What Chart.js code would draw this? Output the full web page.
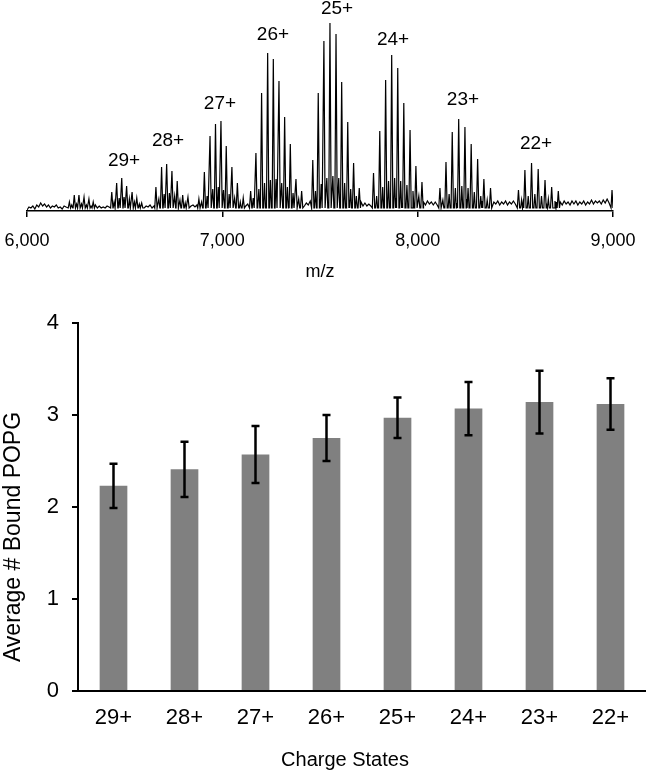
<!DOCTYPE html>
<html>
<head>
<meta charset="utf-8">
<title>Charge states and bound POPG</title>
<script src="https://cdn.jsdelivr.net/npm/chart.js@4.4.1/dist/chart.umd.min.js"></script>
<style>
  body { margin: 0; background: #fff; }
  #wrap { position: relative; width: 646px; height: 773px; }
  #spectrum { position: absolute; left: 0; top: 0; }
  #bars { position: absolute; left: 0; top: 290px; }
</style>
</head>
<body>
<div id="wrap">
  <canvas id="spectrum" width="646" height="290"></canvas>
  <canvas id="bars" width="646" height="483"></canvas>
</div>
<script>
// ========== DATA ==========
const chargeStates = ['29+', '28+', '27+', '26+', '25+', '24+', '23+', '22+'];

// where each charge label sits on the spectrum (m/z, intensity)
const labelMz  = [6497, 6722, 6988, 7259, 7587, 7874, 8232, 8606];
const labelInt = [50, 70, 107, 176, 202, 171, 111, 67];

// main lipid-adduct peaks, one line per charge state (30+ first, unlabelled)
const peakMz = [
  6217, 6242, 6266, 6292, 6317, 6339,
  6434, 6459, 6485, 6510, 6538, 6562, 6587,
  6660, 6689, 6715, 6742, 6769, 6797, 6824,
  6880, 6908, 6937, 6965, 6993, 7020, 7049, 7077, 7107,
  7145, 7172, 7201, 7232, 7261, 7290, 7319, 7348, 7377, 7406,
  7463, 7491, 7520, 7551, 7582, 7611, 7642, 7672, 7701,
  7774, 7806, 7836, 7867, 7898, 7929, 7961, 7991, 8022,
  8114, 8145, 8177, 8210, 8242, 8274, 8307, 8339, 8373,
  8516, 8549, 8583, 8617, 8652, 8686, 8720
];
const peakInt = [
  9, 16, 16, 14, 12, 9,
  19, 28, 33, 25, 19, 13, 8,
  24, 44, 47, 40, 30, 16, 14,
  12, 39, 75, 87, 90, 65, 44, 28, 13,
  20, 58, 118, 158, 152, 130, 94, 67, 32, 20,
  51, 118, 170, 188, 177, 129, 89, 48, 23,
  38, 80, 131, 156, 143, 108, 81, 45, 29,
  23, 49, 79, 92, 84, 67, 52, 32, 23,
  21, 41, 48, 42, 31, 24, 20
];

// smaller peaks sitting between the main ones
const minorMz = [
  6229, 6254, 6279, 6304, 6328,
  6446, 6472, 6497, 6524, 6550, 6575,
  6675, 6702, 6729, 6756, 6783, 6810,
  6894, 6922, 6951, 6979, 7006, 7035, 7063, 7092,
  7158, 7187, 7216, 7246, 7275, 7304, 7333, 7362, 7391,
  7477, 7506, 7535, 7566, 7596, 7626, 7657, 7686,
  7790, 7821, 7851, 7882, 7913, 7945, 7976, 8006,
  8129, 8161, 8193, 8226, 8258, 8290, 8323, 8356,
  8532, 8566, 8600, 8634, 8669, 8703,
  8995
];
const minorInt = [
  6, 7, 7, 6, 5,
  9, 13, 14, 12, 9, 7,
  12, 17, 18, 15, 11, 8,
  9, 15, 22, 24, 21, 17, 13, 9,
  13, 22, 28, 31, 32, 28, 24, 18, 12,
  20, 27, 33, 35, 33, 28, 22, 15,
  15, 24, 30, 33, 30, 26, 20, 15,
  11, 17, 23, 25, 23, 19, 15, 11,
  11, 15, 17, 15, 12, 10,
  21
];

// baseline noise, one reading every 10 m/z from 6,000 to 9,000 (a row = 100 m/z)
const noiseStart = 6000;
const noiseStep = 10;
const noiseInt = [
  1, 4, 3, 5, 2, 6, 4, 8, 5, 7,
  4, 6, 3, 5, 4, 6, 3, 4, 2, 5,
  4, 7, 5, 8, 5, 9, 6, 8, 5, 7,
  6, 8, 5, 7, 4, 6, 3, 5, 3, 4,
  3, 5, 4, 7, 5, 8, 6, 9, 6, 8,
  6, 9, 5, 8, 6, 8, 5, 7, 4, 6,
  3, 5, 4, 6, 3, 5, 6, 9, 7, 10,
  7, 11, 8, 10, 7, 10, 6, 9, 6, 8,
  6, 8, 5, 7, 5, 6, 4, 6, 5, 8,
  7, 11, 8, 12, 9, 13, 8, 12, 9, 12,
  8, 12, 8, 11, 7, 10, 7, 10, 6, 9,
  6, 8, 5, 7, 5, 8, 6, 10, 7, 11,
  8, 13, 9, 14, 9, 14, 10, 13, 9, 13,
  9, 12, 8, 12, 8, 11, 7, 10, 7, 9,
  6, 9, 5, 8, 6, 10, 7, 12, 8, 13,
  9, 14, 10, 15, 10, 14, 9, 14, 9, 13,
  9, 13, 8, 12, 8, 11, 7, 10, 7, 9,
  6, 9, 5, 8, 5, 7, 5, 8, 6, 10,
  7, 12, 8, 13, 9, 14, 9, 13, 9, 13,
  9, 12, 8, 12, 8, 11, 7, 10, 7, 10,
  7, 9, 6, 9, 6, 10, 7, 9, 6, 9,
  6, 9, 7, 11, 8, 12, 8, 12, 9, 12,
  8, 13, 9, 12, 8, 12, 8, 11, 8, 11,
  7, 10, 7, 10, 7, 9, 6, 9, 6, 9,
  7, 10, 6, 9, 7, 10, 6, 9, 7, 10,
  7, 10, 7, 11, 8, 12, 8, 11, 8, 11,
  7, 10, 7, 10, 7, 9, 6, 9, 6, 8,
  7, 9, 6, 9, 6, 10, 7, 9, 6, 10,
  7, 10, 6, 9, 7, 10, 6, 9, 7, 11,
  7, 10, 8, 10, 7, 11, 8, 12, 8, 13,
  9
];

const mzTicks = [6000, 7000, 8000, 9000];

// bar chart: average number of bound POPG per charge state
const boundPopg = [2.23, 2.41, 2.57, 2.75, 2.97, 3.07, 3.14, 3.12];
const boundErr  = [0.24, 0.30, 0.31, 0.25, 0.22, 0.29, 0.34, 0.28];

const fontFamily = "'Liberation Sans', Arial, sans-serif";
Chart.defaults.font.family = fontFamily;
Chart.defaults.color = '#000';

// ========== SPECTRUM ==========
function buildSpectrum() {
  const spikes = [];
  peakMz.forEach((mz, i) => spikes.push({ mz: mz, h: peakInt[i], w: 6 }));
  minorMz.forEach((mz, i) => spikes.push({ mz: mz, h: minorInt[i], w: 5 }));

  const pts = [];
  spikes.forEach(s => {
    pts.push({ x: s.mz - s.w, y: 3 });
    pts.push({ x: s.mz, y: s.h });
    pts.push({ x: s.mz + s.w, y: 3 });
  });
  noiseInt.forEach((v, i) => {
    const mz = noiseStart + i * noiseStep;
    const near = spikes.some(s => Math.abs(s.mz - mz) < s.w + 2);
    if (!near) pts.push({ x: mz, y: v });
  });
  pts.sort((a, b) => a.x - b.x);
  return pts;
}

const chargeLabelPlugin = {
  id: 'chargeLabels',
  afterDraw(chart) {
    const ctx = chart.ctx;
    const x = chart.scales.x;
    const y = chart.scales.y;
    ctx.save();
    ctx.font = '19px ' + fontFamily;
    ctx.fillStyle = '#000';
    ctx.textAlign = 'center';
    ctx.textBaseline = 'middle';
    chargeStates.forEach((txt, i) => {
      ctx.fillText(txt, x.getPixelForValue(labelMz[i]), y.getPixelForValue(labelInt[i]));
    });
    ctx.restore();
  }
};

new Chart(document.getElementById('spectrum'), {
  type: 'line',
  data: {
    datasets: [{
      data: buildSpectrum(),
      borderColor: '#000',
      borderWidth: 1.2,
      pointRadius: 0,
      tension: 0,
      fill: false
    }]
  },
  options: {
    responsive: false,
    animation: false,
    layout: { padding: { left: 27, right: 33, top: 11, bottom: 0 } },
    plugins: { legend: { display: false }, tooltip: { enabled: false } },
    scales: {
      x: {
        type: 'linear',
        min: mzTicks[0],
        max: mzTicks[mzTicks.length - 1],
        afterBuildTicks: s => { s.ticks = mzTicks.map(v => ({ value: v })); },
        ticks: {
          font: { size: 18 },
          padding: 13,
          maxRotation: 0,
          callback: v => v.toLocaleString('en-US')
        },
        grid: { drawOnChartArea: false, drawTicks: true, tickLength: 6, color: '#000', lineWidth: 1.5 },
        border: { color: '#000', width: 1.5 },
        title: { display: true, text: 'm/z', font: { size: 18 }, padding: { top: 0, bottom: 7 } },
        afterFit: s => {
          s.height = 79;
          s.paddingLeft = 0;
          s.paddingRight = 0;
        }
      },
      y: { display: false, min: 0, max: 200 }
    }
  },
  plugins: [chargeLabelPlugin]
});

// ========== BAR CHART ==========
const errorBarPlugin = {
  id: 'errorBars',
  afterDatasetsDraw(chart) {
    const ctx = chart.ctx;
    const y = chart.scales.y;
    const meta = chart.getDatasetMeta(0);
    ctx.save();
    ctx.strokeStyle = '#000';
    ctx.lineWidth = 2.5;
    meta.data.forEach((bar, i) => {
      const top = y.getPixelForValue(boundPopg[i] + boundErr[i]);
      const bot = y.getPixelForValue(boundPopg[i] - boundErr[i]);
      ctx.beginPath();
      ctx.moveTo(bar.x, top);
      ctx.lineTo(bar.x, bot);
      ctx.moveTo(bar.x - 4, top);
      ctx.lineTo(bar.x + 4, top);
      ctx.moveTo(bar.x - 4, bot);
      ctx.lineTo(bar.x + 4, bot);
      ctx.stroke();
    });
    ctx.restore();
  }
};

// axis titles drawn by hand: in the figure they sit off the plot centre
const axisTitlePlugin = {
  id: 'axisTitles',
  afterDraw(chart) {
    const ctx = chart.ctx;
    ctx.save();
    ctx.fillStyle = '#000';
    ctx.textAlign = 'center';
    ctx.textBaseline = 'middle';
    ctx.font = '20px ' + fontFamily;
    ctx.fillText('Charge States', 345, 470);
    ctx.translate(14, 247);
    ctx.rotate(-Math.PI / 2);
    ctx.font = '23px ' + fontFamily;
    ctx.fillText('Average # Bound POPG', 0, 0);
    ctx.restore();
  }
};

new Chart(document.getElementById('bars'), {
  type: 'bar',
  data: {
    labels: chargeStates,
    datasets: [{
      data: boundPopg,
      backgroundColor: '#808080',
      borderWidth: 0,
      categoryPercentage: 1,
      barPercentage: 0.39
    }]
  },
  options: {
    responsive: false,
    animation: false,
    layout: { padding: { left: 0, right: 0, top: 33, bottom: 0 } },
    plugins: { legend: { display: false }, tooltip: { enabled: false } },
    scales: {
      x: {
        grid: { display: false, drawTicks: false },
        border: { display: true, color: '#000', width: 2 },
        ticks: { font: { size: 22 }, padding: 14 },
        afterFit: s => { s.height = 82; }
      },
      y: {
        min: 0,
        max: 4,
        ticks: { stepSize: 1, font: { size: 22 }, padding: 13 },
        grid: { drawOnChartArea: false, drawTicks: true, tickLength: 6, color: '#000', lineWidth: 2 },
        border: { color: '#000', width: 2 },
        afterFit: s => { s.width = 78; }
      }
    }
  },
  plugins: [errorBarPlugin, axisTitlePlugin]
});
</script>
</body>
</html>
